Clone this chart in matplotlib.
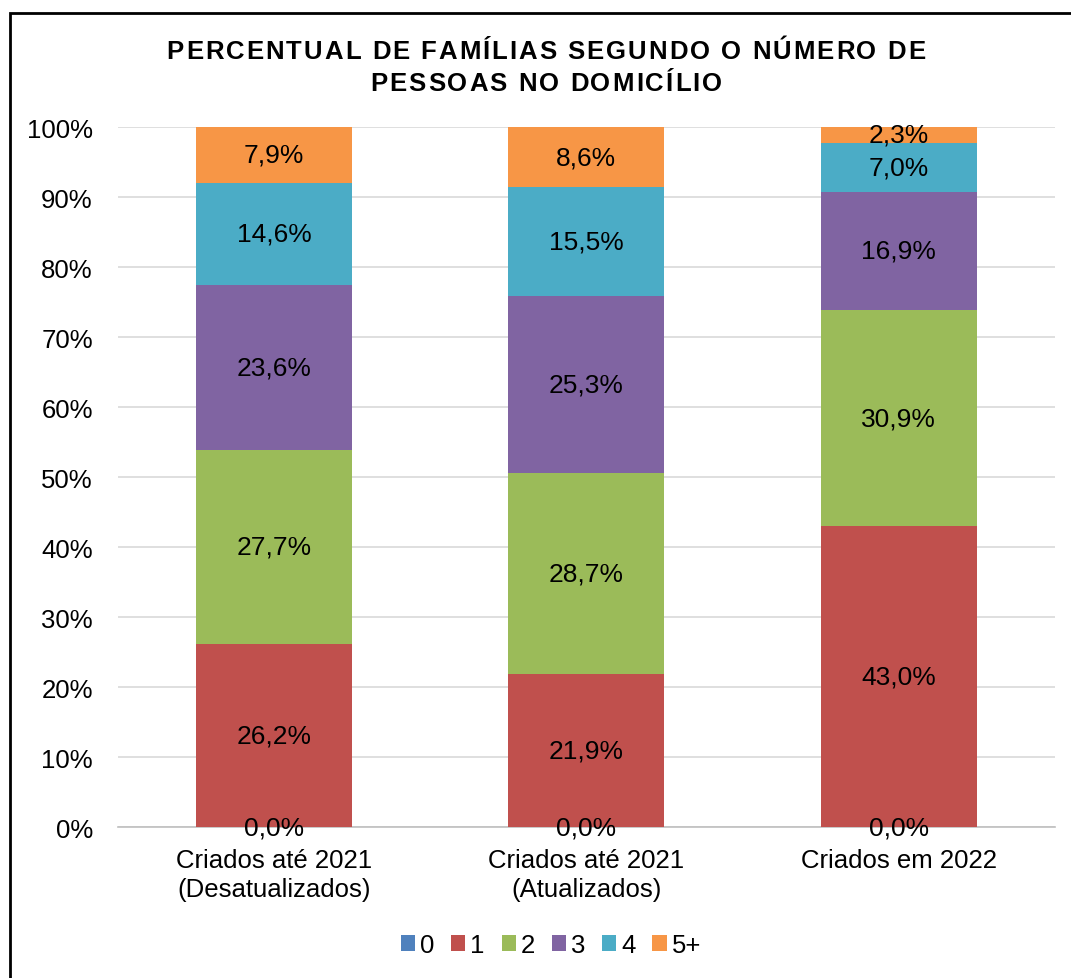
import matplotlib.pyplot as plt
from matplotlib.patches import Rectangle
from matplotlib.font_manager import FontProperties, findfont
from matplotlib.ft2font import FT2Font

plt.rcParams['font.family'] = ['Liberation Sans', 'DejaVu Sans']

# Data
categories = ['Criados até 2021\n(Desatualizados)', 'Criados até 2021\n(Atualizados)', 'Criados em 2022']
series_names = ['0', '1', '2', '3', '4', '5+']
values = {
    '0': [0.0, 0.0, 0.0],
    '1': [26.2, 21.9, 43.0],
    '2': [27.7, 28.7, 30.9],
    '3': [23.6, 25.3, 16.9],
    '4': [14.6, 15.5, 7.0],
    '5+': [7.9, 8.6, 2.3],
}
colors = ['#4F81BD', '#C0504D', '#9BBB59', '#8064A2', '#4BACC6', '#F79646']
title_lines = ['PERCENTUAL DE FAMÍLIAS SEGUNDO O NÚMERO DE', 'PESSOAS NO DOMICÍLIO']

W, H = 1071, 979
fig = plt.figure(figsize=(W / 100, H / 100), dpi=100)
ax = fig.add_axes([0.110, 0.154, 0.875, 0.715])

x = range(len(categories))
bottoms = [0.0] * len(categories)
for name, color in zip(series_names, colors):
    vals = values[name]
    ax.bar(x, vals, width=0.5, bottom=bottoms, color=color, label=name, zorder=3)
    for i, v in enumerate(vals):
        ax.text(i, bottoms[i] + v / 2, f'{v:.1f}%'.replace('.', ','),
                ha='center', va='center', fontsize=19, color='black', zorder=4)
    bottoms = [b + v for b, v in zip(bottoms, vals)]

ax.set_xlim(-0.5, 2.5)
ax.set_ylim(0, 100)
ax.set_yticks(range(0, 101, 10))
ax.set_yticklabels([f'{t}%' for t in range(0, 101, 10)], fontsize=18.5)
ax.set_xticks(list(x))
ax.set_xticklabels(categories, fontsize=18.5, linespacing=1.25)
ax.tick_params(length=0)
ax.tick_params(axis='x', pad=15)
ax.tick_params(axis='y', pad=18)
ax.grid(axis='y', color='#D9D9D9', linewidth=1.2, zorder=0)
for s in ['top', 'right', 'left']:
    ax.spines[s].set_visible(False)
ax.spines['bottom'].set_color('#BFBFBF')
ax.spines['bottom'].set_linewidth(1.2)

# title with letter spacing, one character at a time (glyph advances)
prop = FontProperties(family=['Liberation Sans', 'DejaVu Sans'], weight='bold', size=18.5)
ft = FT2Font(findfont(prop))
ft.set_size(18.5, 100)


def adv(ch):
    return ft.load_char(ord(ch)).linearHoriAdvance / 65536


spacing = 2.0
for line, base_y in zip(title_lines, [59, 91]):
    advs = [adv(c) for c in line]
    total = sum(advs) + spacing * (len(line) - 1)
    px = 546 - total / 2
    for ch, a in zip(line, advs):
        if ch != ' ':
            fig.text(px / W, 1 - base_y / H, ch, ha='left', va='baseline',
                     fontproperties=prop)
        px += a + spacing

fig.legend(loc='center', bbox_to_anchor=(551 / W, 1 - 946 / H), ncol=6, frameon=False,
           fontsize=18.5, handlelength=0.55, handleheight=0.55, handletextpad=0.2,
           columnspacing=0.65)

fig.add_artist(Rectangle((9.5 / W, -0.01), 1.05, 1 - 14 / H + 0.01,
                         transform=fig.transFigure, fill=False,
                         edgecolor='black', linewidth=2))

fig.savefig('out.png', dpi=100)
